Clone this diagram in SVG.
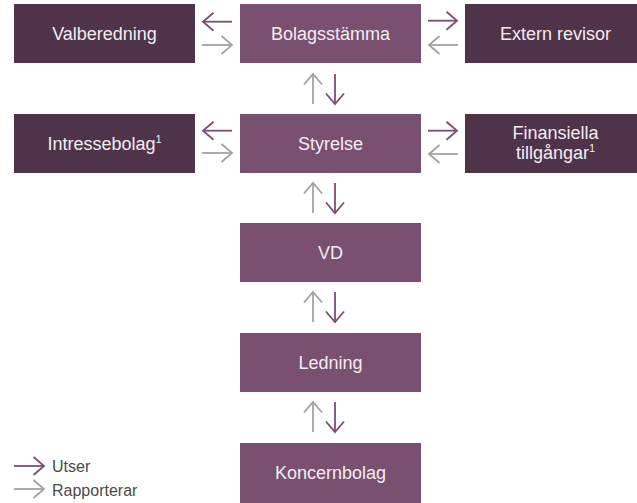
<svg xmlns="http://www.w3.org/2000/svg" width="637" height="503" viewBox="0 0 637 503">
  <style>
    .dark { fill: #4F3349; }
    .mid { fill: #7A5070; }
    .lbl { font-family: "Liberation Sans", Arial, sans-serif; font-size: 18px; fill: #F3EDF2; text-anchor: middle; }
    .sup { font-size: 11px; }
    .ap { stroke: #7A4F72; stroke-width: 1.8; fill: none; marker-end: url(#hp); }
    .ag { stroke: #A3A3A3; stroke-width: 1.8; fill: none; marker-end: url(#hg); }
    .leg { font-family: "Liberation Sans", Arial, sans-serif; font-size: 16px; fill: #4A4A4A; }
  </style>
  <defs>
    <marker id="hp" markerUnits="userSpaceOnUse" orient="auto" markerWidth="14" markerHeight="22" refX="12" refY="10" viewBox="0 0 14 22" overflow="visible">
      <path d="M1.5,1 L12,10 L1.5,19" fill="none" stroke="#7A4F72" stroke-width="1.8"/>
    </marker>
    <marker id="hg" markerUnits="userSpaceOnUse" orient="auto" markerWidth="14" markerHeight="22" refX="12" refY="10" viewBox="0 0 14 22" overflow="visible">
      <path d="M1.5,1 L12,10 L1.5,19" fill="none" stroke="#A3A3A3" stroke-width="1.8"/>
    </marker>
  </defs>

  <g id="valberedning">
    <rect class="dark" x="14" y="4" width="181" height="59"/>
    <text class="lbl" x="104.5" y="40">Valberedning</text>
  </g>
  <g id="bolagsstamma">
    <rect class="mid" x="240" y="4" width="181" height="59"/>
    <text class="lbl" x="330.5" y="40">Bolagsstämma</text>
  </g>
  <g id="extern-revisor">
    <rect class="dark" x="465" y="4" width="181" height="59"/>
    <text class="lbl" x="555.5" y="40">Extern revisor</text>
  </g>
  <g id="intressebolag">
    <rect class="dark" x="14" y="114" width="181" height="59"/>
    <text class="lbl" x="104.5" y="150">Intressebolag<tspan class="sup" dy="-7">1</tspan></text>
  </g>
  <g id="styrelse">
    <rect class="mid" x="240" y="114" width="181" height="59"/>
    <text class="lbl" x="330.5" y="150">Styrelse</text>
  </g>
  <g id="finansiella">
    <rect class="dark" x="465" y="114" width="181" height="59"/>
    <text class="lbl" x="555.5" y="139">Finansiella</text>
    <text class="lbl" x="555.5" y="159">tillgångar<tspan class="sup" dy="-7">1</tspan></text>
  </g>
  <g id="vd">
    <rect class="mid" x="240" y="223" width="181" height="59"/>
    <text class="lbl" x="330.5" y="259">VD</text>
  </g>
  <g id="ledning">
    <rect class="mid" x="240" y="333" width="181" height="59"/>
    <text class="lbl" x="330.5" y="369">Ledning</text>
  </g>
  <g id="koncernbolag">
    <rect class="mid" x="240" y="443" width="181" height="60"/>
    <text class="lbl" x="330.5" y="479">Koncernbolag</text>
  </g>

  <g id="connectors">
    <path class="ap" d="M232,21.7 H203"/>
    <path class="ag" d="M202,45 H232"/>
    <path class="ap" d="M428,20.7 H457"/>
    <path class="ag" d="M458,45 H429"/>
    <path class="ap" d="M232,130.7 H203"/>
    <path class="ag" d="M202,153 H232"/>
    <path class="ap" d="M428,130.7 H457"/>
    <path class="ag" d="M458,154 H429"/>

    <path class="ag" d="M313,104 V74"/>
    <path class="ap" d="M335,74 V104"/>
    <path class="ag" d="M313,213 V183"/>
    <path class="ap" d="M335,183 V213"/>
    <path class="ag" d="M313,322 V292"/>
    <path class="ap" d="M335,292 V322"/>
    <path class="ag" d="M313,432 V402"/>
    <path class="ap" d="M335,402 V432"/>
  </g>

  <g id="legend">
    <path class="ap" d="M14,466 H44"/>
    <text class="leg" x="52" y="472">Utser</text>
    <path class="ag" d="M14,489 H44"/>
    <text class="leg" x="52" y="496">Rapporterar</text>
  </g>
</svg>
